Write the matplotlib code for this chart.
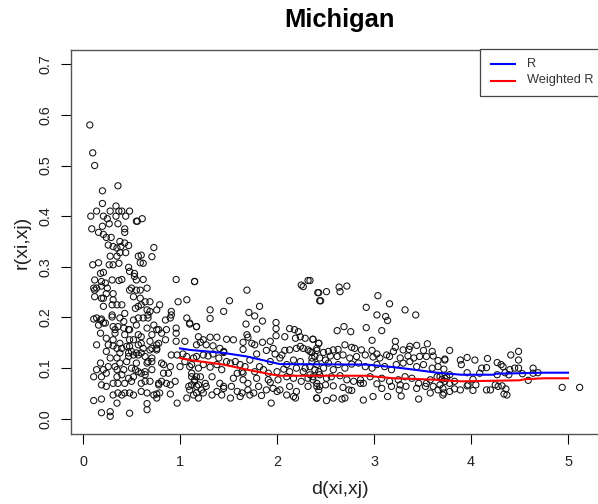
"""Scatter of pairwise correlation r(xi,xj) against distance d(xi,xj), Michigan."""

import numpy as np
import matplotlib

matplotlib.use("Agg")
import matplotlib.pyplot as plt
from matplotlib.lines import Line2D
from matplotlib.patches import Rectangle

# (d, r) pairs, short distances
pairs_near = [
    (0.07, 0.58), (0.10, 0.525), (0.12, 0.50), (0.20, 0.45), (0.36, 0.46),
    (0.20, 0.425), (0.34, 0.42), (0.14, 0.41), (0.28, 0.41), (0.37, 0.41),
    (0.40, 0.41), (0.48, 0.41), (0.44, 0.40), (0.08, 0.40), (0.21, 0.40),
    (0.25, 0.395), (0.34, 0.40), (0.55, 0.39), (0.56, 0.39), (0.61, 0.395),
    (0.09, 0.375), (0.20, 0.38), (0.27, 0.385), (0.36, 0.385), (0.43, 0.375),
    (0.43, 0.368), (0.16, 0.368), (0.21, 0.364), (0.29, 0.358), (0.24, 0.358),
    (0.38, 0.35), (0.26, 0.343), (0.31, 0.34), (0.35, 0.337), (0.39, 0.34),
    (0.43, 0.347), (0.47, 0.342), (0.73, 0.338),
    (0.28, 0.321), (0.35, 0.321), (0.38, 0.328), (0.44, 0.328), (0.57, 0.321),
    (0.60, 0.323), (0.71, 0.32),
    (0.10, 0.304), (0.16, 0.308), (0.27, 0.304), (0.31, 0.304), (0.37, 0.307),
    (0.47, 0.299), (0.59, 0.308), (0.62, 0.307),
    (0.18, 0.287), (0.21, 0.289), (0.48, 0.291), (0.53, 0.287), (0.53, 0.281),
    (0.12, 0.274), (0.19, 0.271), (0.23, 0.268), (0.30, 0.274), (0.37, 0.273),
    (0.40, 0.275), (0.55, 0.274), (0.62, 0.275), (0.96, 0.275), (1.15, 0.271),
    (0.11, 0.258), (0.12, 0.254), (0.14, 0.258), (0.19, 0.262), (0.25, 0.258),
    (0.48, 0.254), (0.50, 0.258), (0.55, 0.254), (0.59, 0.254), (0.66, 0.258),
    (0.12, 0.241), (0.19, 0.238), (0.21, 0.238), (0.24, 0.247), (0.31, 0.247),
    (0.31, 0.235), (0.52, 0.241), (0.59, 0.238), (0.64, 0.231), (0.69, 0.231),
    (0.21, 0.222), (0.30, 0.225), (0.35, 0.225), (0.40, 0.225), (0.43, 0.208),
    (0.54, 0.218), (0.57, 0.222), (0.60, 0.225), (0.66, 0.215), (0.69, 0.212),
    (0.76, 0.215), (0.79, 0.225), (0.91, 0.212), (0.98, 0.231), (1.07, 0.235),
    (0.11, 0.197), (0.14, 0.199), (0.18, 0.195), (0.19, 0.197), (0.23, 0.189),
    (0.30, 0.205), (0.30, 0.201), (0.38, 0.199), (0.42, 0.192), (0.52, 0.195),
    (0.57, 0.199), (0.62, 0.199), (0.67, 0.199), (0.67, 0.205),
    (0.16, 0.185), (0.21, 0.189), (0.31, 0.182), (0.33, 0.176), (0.36, 0.182),
    (0.42, 0.179), (0.47, 0.176), (0.55, 0.185), (0.66, 0.179), (0.73, 0.185),
    (0.78, 0.176), (0.85, 0.195), (0.90, 0.199), (0.91, 0.205), (1.07, 0.199),
    (1.10, 0.189), (1.17, 0.182),
    (0.18, 0.169), (0.33, 0.169), (0.43, 0.166), (0.48, 0.176), (0.57, 0.166),
    (0.60, 0.162), (0.71, 0.166), (0.76, 0.176), (0.81, 0.169), (0.86, 0.176),
    (0.96, 0.179), (0.96, 0.169), (0.96, 0.153),
    (0.24, 0.159), (0.31, 0.156), (0.38, 0.149), (0.48, 0.156), (0.52, 0.156),
    (0.60, 0.149), (0.69, 0.153), (0.76, 0.146), (0.78, 0.149), (0.85, 0.156),
    (1.05, 0.153), (1.17, 0.146), (1.19, 0.162),
    (0.14, 0.146), (0.26, 0.146), (0.31, 0.144), (0.35, 0.139), (0.40, 0.139),
    (0.45, 0.143), (0.48, 0.143), (0.57, 0.146), (0.62, 0.139), (0.71, 0.139),
    (0.76, 0.139),
    (0.24, 0.133), (0.38, 0.130), (0.47, 0.130), (0.50, 0.133), (0.55, 0.130),
    (0.60, 0.130), (0.69, 0.136), (0.76, 0.136),
    (0.28, 0.120), (0.35, 0.120), (0.47, 0.123), (0.52, 0.126), (0.57, 0.126),
    (0.64, 0.123), (0.71, 0.120), (0.91, 0.126), (0.97, 0.126), (1.03, 0.128),
    (1.07, 0.123),
    (0.18, 0.110), (0.26, 0.103), (0.33, 0.103), (0.38, 0.110), (0.45, 0.113),
    (0.55, 0.110), (0.66, 0.110), (0.67, 0.113), (0.71, 0.113), (0.81, 0.110),
    (0.83, 0.107), (0.90, 0.103), (1.00, 0.103), (1.05, 0.113), (1.12, 0.107),
    (0.14, 0.097), (0.21, 0.097), (0.35, 0.097), (0.42, 0.097), (0.50, 0.100),
    (0.54, 0.097), (0.57, 0.093), (0.64, 0.093), (0.71, 0.097), (0.83, 0.090),
    (0.88, 0.090),
    (0.11, 0.083), (0.19, 0.083), (0.24, 0.090), (0.35, 0.083), (0.40, 0.087),
    (0.47, 0.080), (0.52, 0.083), (0.60, 0.090), (0.64, 0.087), (0.69, 0.074),
    (0.78, 0.070), (0.81, 0.074), (0.86, 0.070), (0.90, 0.067), (0.95, 0.074),
    (1.12, 0.090), (1.17, 0.083),
    (0.19, 0.067), (0.24, 0.064), (0.31, 0.070), (0.36, 0.070), (0.43, 0.070),
    (0.50, 0.074), (0.60, 0.070), (0.64, 0.074), (0.78, 0.067), (1.09, 0.064),
    (1.15, 0.074), (1.19, 0.067),
    (0.31, 0.047), (0.36, 0.051), (0.40, 0.047), (0.43, 0.051), (0.48, 0.051),
    (0.52, 0.047), (0.60, 0.054), (0.66, 0.051), (0.73, 0.047), (0.76, 0.049),
    (0.79, 0.051), (0.90, 0.049), (1.07, 0.041), (1.10, 0.057), (1.17, 0.051),
    (0.11, 0.036), (0.19, 0.039), (0.35, 0.031), (0.66, 0.030), (0.76, 0.041),
    (0.97, 0.031),
    (0.19, 0.012), (0.28, 0.014), (0.28, 0.005), (0.48, 0.011), (0.66, 0.018),
]

# (d, r) pairs, longer distances
pairs_far = [
    (1.15, 0.271), (1.69, 0.254), (2.25, 0.264), (2.27, 0.261), (2.32, 0.273),
    (2.42, 0.249), (2.44, 0.233),
    (1.51, 0.233), (1.31, 0.215), (1.45, 0.212), (1.82, 0.222), (1.31, 0.198),
    (1.71, 0.210), (1.77, 0.203), (1.85, 0.193),
    (1.10, 0.187), (1.17, 0.182), (1.68, 0.187), (1.79, 0.177), (1.99, 0.190),
    (1.99, 0.178), (2.13, 0.178), (2.18, 0.176), (2.22, 0.172), (1.99, 0.164),
    (1.69, 0.166), (1.70, 0.161), (1.31, 0.161), (1.38, 0.161), (1.48, 0.157),
    (1.55, 0.156), (1.65, 0.151), (1.74, 0.149), (1.77, 0.146), (1.85, 0.151),
    (1.93, 0.153), (2.08, 0.162), (2.19, 0.159), (2.24, 0.162), (2.29, 0.159),
    (2.37, 0.157), (2.43, 0.149),
    (1.21, 0.151), (1.24, 0.156), (1.27, 0.146), (1.34, 0.144), (1.41, 0.139),
    (1.45, 0.133), (1.65, 0.137), (1.79, 0.128), (1.89, 0.135), (1.96, 0.139),
    (1.98, 0.128), (2.05, 0.126), (2.08, 0.135), (2.13, 0.136), (2.20, 0.139),
    (2.24, 0.143), (2.27, 0.139), (2.32, 0.136), (2.36, 0.131), (2.41, 0.135),
    (1.14, 0.120), (1.17, 0.123), (1.24, 0.126), (1.29, 0.124), (1.34, 0.128),
    (1.40, 0.120), (1.45, 0.131), (1.48, 0.113), (1.57, 0.113), (1.62, 0.107),
    (1.64, 0.093), (1.67, 0.103), (1.72, 0.116), (1.82, 0.103), (1.93, 0.113),
    (2.03, 0.120), (2.10, 0.107), (2.17, 0.116), (2.24, 0.113), (2.29, 0.100),
    (2.36, 0.113), (2.39, 0.097),
    (1.10, 0.103), (1.19, 0.100), (1.24, 0.107), (1.31, 0.102), (1.38, 0.107),
    (1.43, 0.097), (1.52, 0.110), (1.59, 0.090), (1.65, 0.090), (1.77, 0.093),
    (1.86, 0.097), (1.91, 0.090), (2.00, 0.093), (2.07, 0.098), (2.13, 0.093),
    (2.20, 0.100), (2.27, 0.093), (2.34, 0.087), (2.43, 0.093),
    (1.12, 0.083), (1.15, 0.077), (1.21, 0.083), (1.26, 0.070), (1.33, 0.083),
    (1.41, 0.070), (1.45, 0.064), (1.55, 0.080), (1.65, 0.077), (1.70, 0.070),
    (1.79, 0.080), (1.91, 0.077), (1.93, 0.072), (2.01, 0.077), (2.10, 0.083),
    (2.17, 0.080), (2.25, 0.074), (2.32, 0.080), (2.37, 0.077), (2.41, 0.070),
    (2.44, 0.064),
    (1.12, 0.067), (1.17, 0.064), (1.22, 0.057), (1.27, 0.064), (1.38, 0.054),
    (1.45, 0.060), (1.53, 0.064), (1.59, 0.054), (1.64, 0.051), (1.70, 0.057),
    (1.76, 0.051), (1.81, 0.064), (1.89, 0.057), (1.96, 0.060), (2.03, 0.057),
    (2.13, 0.064), (2.20, 0.054), (2.32, 0.064), (2.43, 0.057),
    (1.14, 0.047), (1.19, 0.041), (1.24, 0.051), (1.33, 0.047), (1.43, 0.047),
    (1.52, 0.041), (1.62, 0.044), (1.72, 0.047), (1.84, 0.046), (2.00, 0.054),
    (2.10, 0.047), (2.17, 0.044), (2.41, 0.041), (1.94, 0.031), (2.19, 0.041),
    (2.34, 0.273), (2.43, 0.249), (2.51, 0.251), (2.64, 0.260), (2.65, 0.251),
    (2.72, 0.262), (2.45, 0.233), (3.04, 0.243), (3.16, 0.227), (2.92, 0.220),
    (3.32, 0.215), (3.43, 0.205), (3.03, 0.205), (3.12, 0.202), (3.14, 0.194),
    (2.62, 0.174), (2.69, 0.182), (2.76, 0.172), (2.92, 0.180), (3.08, 0.174),
    (2.37, 0.157), (2.43, 0.149), (2.98, 0.155), (3.22, 0.153), (3.22, 0.141),
    (3.37, 0.143), (3.44, 0.145), (3.55, 0.148),
    (2.34, 0.133), (2.41, 0.139), (2.48, 0.131), (2.53, 0.133), (2.58, 0.136),
    (2.63, 0.137), (2.70, 0.146), (2.77, 0.141), (2.80, 0.139), (2.87, 0.136),
    (2.98, 0.135), (3.03, 0.128), (3.13, 0.126), (3.20, 0.133), (3.30, 0.136),
    (3.36, 0.137), (3.51, 0.135), (3.60, 0.133), (3.73, 0.118),
    (2.36, 0.120), (2.39, 0.123), (2.44, 0.120), (2.50, 0.116), (2.55, 0.124),
    (2.62, 0.123), (2.68, 0.126), (2.75, 0.120), (2.82, 0.123), (2.91, 0.126),
    (2.99, 0.122), (3.06, 0.120), (3.16, 0.123), (3.27, 0.120), (3.35, 0.124),
    (3.41, 0.120), (3.47, 0.123), (3.54, 0.123), (3.61, 0.124), (3.66, 0.115),
    (2.34, 0.103), (2.41, 0.107), (2.48, 0.100), (2.53, 0.110), (2.58, 0.097),
    (2.63, 0.107), (2.70, 0.100), (2.77, 0.108), (2.84, 0.110), (2.91, 0.103),
    (2.98, 0.100), (3.03, 0.107), (3.11, 0.103), (3.18, 0.097), (3.23, 0.107),
    (3.30, 0.110), (3.37, 0.113), (3.44, 0.103), (3.51, 0.107), (3.60, 0.100),
    (3.66, 0.103), (3.72, 0.098),
    (2.37, 0.083), (2.44, 0.087), (2.51, 0.080), (2.56, 0.083), (2.65, 0.085),
    (2.72, 0.077), (2.79, 0.074), (2.86, 0.077), (2.96, 0.083), (3.08, 0.080),
    (3.16, 0.074), (3.25, 0.077), (3.27, 0.067), (3.32, 0.083), (3.39, 0.080),
    (3.46, 0.070), (3.54, 0.070), (3.58, 0.077), (3.65, 0.083), (3.73, 0.080),
    (2.41, 0.064), (2.50, 0.067), (2.58, 0.065), (2.68, 0.062), (2.74, 0.057),
    (2.77, 0.056), (2.86, 0.070), (2.89, 0.070), (3.03, 0.069), (3.08, 0.060),
    (3.18, 0.064), (3.26, 0.057), (3.33, 0.064), (3.44, 0.060), (3.53, 0.064),
    (3.61, 0.064), (3.66, 0.057), (3.72, 0.051),
    (2.41, 0.041), (2.51, 0.036), (2.58, 0.041), (2.67, 0.039), (2.70, 0.041),
    (2.89, 0.037), (2.99, 0.044), (3.14, 0.044), (3.28, 0.045), (3.46, 0.039),
    (3.58, 0.051),
    (3.78, 0.135), (3.73, 0.116), (3.89, 0.116), (3.90, 0.107), (3.96, 0.121),
    (4.04, 0.116), (4.17, 0.119), (4.41, 0.126), (4.49, 0.133), (4.49, 0.116),
    (4.11, 0.100), (4.16, 0.101), (4.27, 0.111), (4.31, 0.107), (4.33, 0.103),
    (4.35, 0.091), (4.40, 0.097), (4.45, 0.100), (4.49, 0.100), (4.53, 0.089),
    (4.64, 0.100), (4.64, 0.090), (4.69, 0.091), (4.09, 0.090), (3.96, 0.091),
    (4.27, 0.087), (4.39, 0.087),
    (3.68, 0.083), (3.70, 0.078), (3.75, 0.082), (3.78, 0.087), (3.73, 0.074),
    (3.83, 0.074), (4.02, 0.078), (4.59, 0.076),
    (3.68, 0.067), (3.71, 0.060), (3.78, 0.070), (3.83, 0.059), (3.89, 0.057),
    (3.96, 0.065), (3.97, 0.067), (4.05, 0.067), (4.02, 0.056), (4.16, 0.057),
    (4.20, 0.057), (4.25, 0.067), (4.28, 0.064), (4.32, 0.065), (4.36, 0.059),
    (4.34, 0.049), (4.37, 0.047),
    (3.71, 0.047), (3.78, 0.054), (4.94, 0.062), (5.12, 0.062),
]

# binned mean curves
r_dist = [1.0, 1.1, 1.45, 1.69, 1.96, 2.03, 2.92, 3.2, 3.37, 3.65, 3.9, 4.23, 4.26, 4.75, 5.0]
r_mean = [0.139, 0.136, 0.130, 0.123, 0.111, 0.108, 0.107, 0.102, 0.098, 0.091, 0.087, 0.087, 0.089, 0.091, 0.091]
wr_dist = [1.0, 1.1, 1.45, 1.69, 1.96, 2.03, 2.92, 3.2, 3.37, 3.65, 3.8, 3.9, 4.5, 4.55, 4.75, 5.0]
wr_mean = [0.12, 0.116, 0.107, 0.097, 0.087, 0.085, 0.085, 0.080, 0.079, 0.077, 0.075, 0.074, 0.076, 0.078, 0.080, 0.080]

series_names = ["R", "Weighted R"]
series_colors = ["#0000ff", "#ff0000"]

x_ticks = [0, 1, 2, 3, 4, 5]
y_ticks = [0.0, 0.1, 0.2, 0.3, 0.4, 0.5, 0.6, 0.7]

W, H = 598, 504


def fx(px):
    return px / W


def fy(py):
    return 1 - py / H


plt.rcParams["font.family"] = ["Liberation Sans", "DejaVu Sans"]
fig = plt.figure(figsize=(W / 100, H / 100), dpi=100)

# plot region in pixels: left 71, top 50, bottom 434, right edge runs past the figure
left, top, bottom, right = 71, 50, 434, 610
ax = fig.add_axes([fx(left), fy(bottom), (right - left) / W, (bottom - top) / H])

pts = np.array(pairs_near + pairs_far)
ax.scatter(pts[:, 0], pts[:, 1], s=20, facecolors="none", edgecolors="#111111",
           linewidths=0.75, zorder=2)

ax.plot(r_dist, r_mean, color=series_colors[0], lw=1.5, zorder=3)
ax.plot(wr_dist, wr_mean, color=series_colors[1], lw=1.5, zorder=3)

ax.set_xlim(-0.124, 5.433)
ax.set_ylim(-0.030, 0.728)
ax.set_xticks(x_ticks)
ax.set_xticklabels([str(t) for t in x_ticks])
ax.set_yticks(y_ticks)
ax.set_yticklabels([f"{t:.1f}" for t in y_ticks], rotation=90, va="center")
ax.tick_params(axis="both", direction="out", length=7, width=0.8, color="black",
               labelsize=10.4, labelcolor="#222222")
ax.tick_params(axis="x", pad=8)
ax.tick_params(axis="y", pad=6)
for sp in ax.spines.values():
    sp.set_color("#555555")
    sp.set_linewidth(1.0)

ax.set_xlabel("d(xi,xj)", fontsize=14, color="#222222", va="center")
ax.set_ylabel("r(xi,xj)", fontsize=14, color="#222222", va="center")
ax.xaxis.set_label_coords((340 - left) / (right - left), (bottom - 489) / (bottom - top))
ax.yaxis.set_label_coords((22 - left) / (right - left), 0.5)

fig.text(fx(340), fy(27), "Michigan", ha="center", va="baseline",
         fontsize=18.4, fontweight="bold")

# legend box in the top-right corner, running off the right edge like the plot box
fig.add_artist(Rectangle((fx(480), fy(96)), fx(640) - fx(480), fy(49) - fy(96),
                         transform=fig.transFigure, facecolor="white",
                         edgecolor="#444444", lw=0.9, zorder=5))
for i, (name, col) in enumerate(zip(series_names, series_colors)):
    yy = 64 + 16.5 * i
    fig.add_artist(Line2D([fx(491), fx(515)], [fy(yy), fy(yy)], color=col, lw=1.5,
                          transform=fig.transFigure, zorder=6))
    fig.text(fx(527), fy(yy), name, ha="left", va="center", fontsize=9.2,
             color="#333333", zorder=6)

fig.savefig("out.png", dpi=100)
